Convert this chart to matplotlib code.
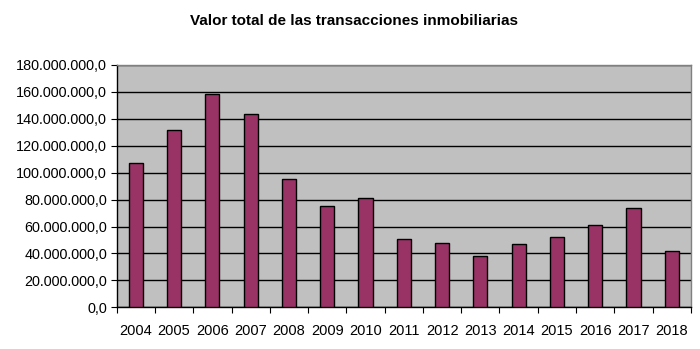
import matplotlib.pyplot as plt
from matplotlib.ticker import FuncFormatter, MultipleLocator

# Datos
anios = ['2004', '2005', '2006', '2007', '2008', '2009', '2010', '2011',
         '2012', '2013', '2014', '2015', '2016', '2017', '2018']
valores = [107.0e6, 131.5e6, 158.2e6, 143.4e6, 95.1e6, 75.0e6, 81.0e6, 50.5e6,
           47.5e6, 37.9e6, 46.8e6, 52.0e6, 60.9e6, 73.5e6, 41.6e6]

plt.rcParams['font.family'] = ['Liberation Sans', 'DejaVu Sans']

fig = plt.figure(figsize=(7, 3.49), dpi=100)
ax = fig.add_axes([0.1667, 0.1195, 0.8203, 0.6943])
ax.set_facecolor('#C0C0C0')

x = range(len(anios))
ax.bar(x, valores, width=0.37, color='#993366', edgecolor='black', linewidth=1, zorder=3)

ax.set_xlim(-0.5, len(anios) - 0.5)
ax.set_ylim(0, 180e6)
ax.yaxis.set_major_locator(MultipleLocator(20e6))

def fmt(v, pos):
    s = f"{v:,.1f}"
    return s.replace(',', 'X').replace('.', ',').replace('X', '.')

ax.yaxis.set_major_formatter(FuncFormatter(fmt))
ax.grid(axis='y', color='black', linewidth=1, zorder=1)

# ticks entre categorias
ax.set_xticks([i - 0.5 for i in range(len(anios) + 1)])
ax.set_xticklabels([])
ax.set_xticks(list(x), minor=True)
ax.set_xticklabels(anios, minor=True)
ax.tick_params(axis='x', which='minor', length=0, labelsize=10.5, pad=12)
ax.tick_params(axis='x', which='major', length=4, direction='out', color='black')
ax.tick_params(axis='y', length=4, direction='out', labelsize=10.4, pad=3)

for lado in ['top', 'right']:
    ax.spines[lado].set_color('#808080')
    ax.spines[lado].set_linewidth(1)
for lado in ['left', 'bottom']:
    ax.spines[lado].set_color('black')
    ax.spines[lado].set_linewidth(1)

fig.text(0.506, 0.94, 'Valor total de las transacciones inmobiliarias',
         ha='center', va='center', fontsize=11, fontweight='bold')

fig.savefig('out.png', dpi=100)
